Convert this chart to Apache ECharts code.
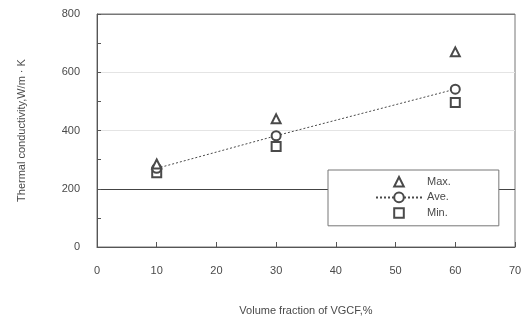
<!DOCTYPE html>
<html>
<head>
<meta charset="utf-8">
<script src="https://cdn.jsdelivr.net/npm/echarts@6/dist/echarts.min.js"></script>
<style>
  html, body { margin: 0; padding: 0; background: #fff; }
  #chart { width: 526px; height: 321px; }
</style>
</head>
<body>
<div id="chart"></div>
<script>
// Thermal conductivity vs. VGCF volume fraction
const fractions = [10, 30, 60];
const maxValues = [285, 440, 670];
const aveValues = [270, 382, 542];
const minValues = [255, 345, 496];

const xTicks = { min: 0, max: 70, interval: 10 };
const yTicks = { min: 0, max: 800, interval: 200 };

const pairs = (xs, ys) => xs.map((x, i) => [x, ys[i]]);

const ink = '#4a4a4a';
const font = '"Liberation Sans", Arial, sans-serif';

// Max. and Min. are markers only: their connecting line is hidden,
// so the legend shows just the symbol at its real size.
const markerSeries = (name, values, symbol, z) => ({
  name, type: 'line',
  data: pairs(fractions, values),
  symbol, symbolSize: 9,
  lineStyle: { opacity: 0, width: 0 },
  itemStyle: { color: ink, borderColor: ink, borderWidth: 1 },
  z
});

const chart = echarts.init(document.getElementById('chart'), null, { renderer: 'canvas' });
chart.setOption({
  animation: false,
  textStyle: { fontFamily: font, color: ink },
  grid: {
    left: 97, right: 11, top: 14, bottom: 70,
    show: true, borderColor: '#777', borderWidth: 1, backgroundColor: 'transparent'
  },
  xAxis: {
    type: 'value',
    min: xTicks.min, max: xTicks.max, interval: xTicks.interval,
    name: 'Volume fraction of VGCF,%',
    nameLocation: 'middle', nameGap: 58,
    nameTextStyle: { fontSize: 11, color: ink, fontFamily: font },
    axisLine: { show: true, lineStyle: { color: '#555', width: 1 } },
    axisTick: { show: true, inside: true, length: 5, lineStyle: { color: '#555' } },
    axisLabel: { fontSize: 11, color: ink, margin: 18, fontFamily: font },
    splitLine: { show: false }
  },
  yAxis: {
    type: 'value',
    min: yTicks.min, max: yTicks.max, interval: yTicks.interval,
    name: 'Thermal conductivity,W/m · K',
    nameLocation: 'middle', nameGap: 70,
    nameTextStyle: { fontSize: 11, color: ink, fontFamily: font },
    axisLine: { show: true, lineStyle: { color: '#555', width: 1 } },
    axisTick: { show: true, inside: true, length: 4, lineStyle: { color: '#555' } },
    minorTick: { show: true, splitNumber: 2, length: 4, lineStyle: { color: '#555' } },
    axisLabel: { fontSize: 11, color: ink, margin: 17, fontFamily: font },
    splitLine: {
      show: true,
      lineStyle: { color: ['#555', '#444', '#e4e4e4', '#e4e4e4', '#777'], width: 1 }
    }
  },
  legend: {
    orient: 'vertical',
    left: 328, top: 170,
    padding: [6, 48, 7, 47],
    backgroundColor: '#fff',
    borderColor: '#777', borderWidth: 1,
    itemWidth: 46, itemHeight: 12, itemGap: 4,
    textStyle: { fontSize: 11, color: ink, fontFamily: font },
    data: ['Max.', 'Ave.', 'Min.']
  },
  series: [
    markerSeries('Max.', maxValues, 'emptyTriangle', 5),
    {
      name: 'Ave.', type: 'line',
      data: pairs(fractions, aveValues),
      symbol: 'emptyCircle', symbolSize: 9,
      lineStyle: { color: ink, width: 1, type: [2, 2] },
      itemStyle: { color: ink, borderColor: ink, borderWidth: 1 },
      z: 4
    },
    markerSeries('Min.', minValues, 'emptyRect', 3)
  ]
});
</script>
</body>
</html>
